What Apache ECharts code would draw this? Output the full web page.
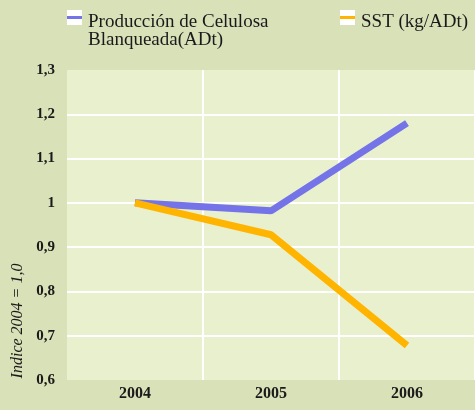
<!DOCTYPE html>
<html>
<head>
<meta charset="utf-8">
<script src="https://cdn.jsdelivr.net/npm/echarts@6/dist/echarts.min.js"></script>
<style>
  html, body { margin: 0; padding: 0; background: #d9e1b9; }
  #chart { width: 475px; height: 410px; }
</style>
</head>
<body>
<div id="chart"></div>
<script>
// Years on the horizontal axis
const years = ['2004', '2005', '2006'];
// Index values (2004 = 1,0)
const produccion = [1.0, 0.982, 1.18];
const sst = [1.0, 0.928, 0.678];
// Legend labels and axis title
const nameProduccion = 'Producción de Celulosa\nBlanqueada(ADt)';
const nameSst = 'SST (kg/ADt)';
const yTitle = 'Indice 2004 = 1,0';

const serif = '"Liberation Serif", "DejaVu Serif", serif';
const purple = '#7474e8';
const orange = '#ffb400';
const ink = '#1a1a1a';

const chart = echarts.init(document.getElementById('chart'));

function legendItem(x, color, text) {
  return {
    type: 'group',
    x: x, y: 10,
    children: [
      { type: 'rect', shape: { x: 0, y: 0, width: 15, height: 15 }, style: { fill: '#ffffff' } },
      { type: 'rect', shape: { x: 0, y: 6, width: 15, height: 3 }, style: { fill: color } },
      { type: 'text', x: 21, y: 3,
        style: { text: text, font: '19px ' + serif, fill: ink, lineHeight: 18, textVerticalAlign: 'top' } }
    ]
  };
}

chart.setOption({
  backgroundColor: '#d9e1b9',
  animation: false,
  grid: {
    left: 67, right: 0, top: 70, bottom: 30,
    show: true, backgroundColor: '#e9f0cd', borderWidth: 0
  },
  xAxis: {
    type: 'category',
    data: years,
    boundaryGap: true,
    axisLine: { show: false },
    axisTick: { show: false },
    axisLabel: { color: ink, fontFamily: serif, fontWeight: 'bold', fontSize: 16, margin: 6 },
    splitLine: { show: true, interval: (i) => i > 0, lineStyle: { color: '#ffffff', width: 2 } }
  },
  yAxis: {
    type: 'value',
    min: 0.6, max: 1.3, interval: 0.1,
    axisLine: { show: false },
    axisTick: { show: false },
    axisLabel: {
      color: ink, fontFamily: serif, fontWeight: 'bold', fontSize: 15, margin: 12,
      formatter: v => String(Math.round(v * 10) / 10).replace('.', ',')
    },
    splitLine: { show: true, showMinLine: false, showMaxLine: false, lineStyle: { color: '#ffffff', width: 2 } }
  },
  series: [
    { name: nameProduccion, type: 'line', data: produccion, showSymbol: false, symbol: 'none',
      lineStyle: { color: purple, width: 7, cap: 'butt' }, itemStyle: { color: purple } },
    { name: nameSst, type: 'line', data: sst, showSymbol: false, symbol: 'none',
      lineStyle: { color: orange, width: 7, cap: 'butt' }, itemStyle: { color: orange } }
  ],
  graphic: [
    legendItem(67, purple, nameProduccion),
    legendItem(340, orange, nameSst),
    { type: 'text', x: 18, y: 321, rotation: Math.PI / 2,
      style: { text: yTitle, font: 'italic 16px ' + serif, fill: ink, textAlign: 'center', textVerticalAlign: 'middle' } }
  ]
});
</script>
</body>
</html>
